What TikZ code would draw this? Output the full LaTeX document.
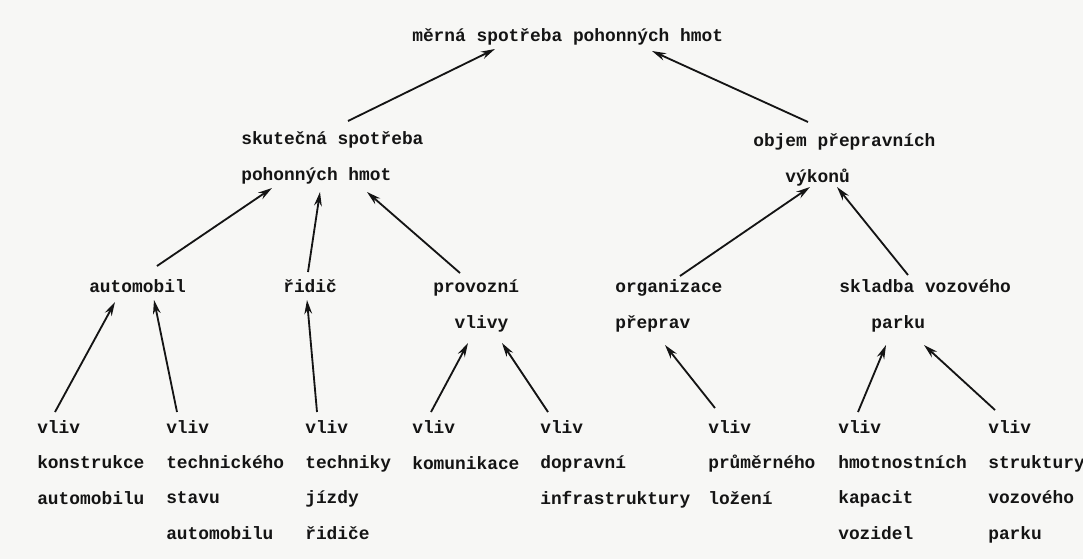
\documentclass[tikz,border=0pt]{standalone}
\usepackage{fontspec}
\setmonofont{Liberation Mono}
\usetikzlibrary{arrows.meta}
\definecolor{ink}{HTML}{141414}
\definecolor{paper}{HTML}{F7F7F5}
\begin{document}
\begin{tikzpicture}[x=0.025cm,y=-0.025cm,
  lbl/.style={anchor=base west,inner sep=0pt,align=left,text=ink,
    font=\ttfamily\bfseries\fontsize{12.7}{24.9}\selectfont},
  arr/.style={draw=ink,line width=1.3pt,-{Stealth[length=10pt,width=5.5pt]}}]
\fill[paper] (0,0) rectangle (1083,559);
\useasboundingbox (0,0) rectangle (1083,559);

\node[lbl] (top) at (412,42) {měrná spotřeba pohonných hmot};
\node[lbl] (skut) at (241,180) {skutečná spotřeba\\pohonných hmot};
\node[lbl] (obj) at (753,182) {objem přepravních\\\hspace*{1.8em}výkonů};
\node[lbl] (auto) at (89,292) {automobil};
\node[lbl] (rid) at (283,292) {řidič};
\node[lbl] (prov) at (433,328) {provozní\\\hspace*{1.2em}vlivy};
\node[lbl] (org) at (615,328) {organizace\\přeprav};
\node[lbl] (skl) at (839,328) {skladba vozového\\\hspace*{1.8em}parku};

\node[lbl] (v1) at (37,504) {vliv\\konstrukce\\automobilu};
\node[lbl] (v2) at (166,539) {vliv\\technického\\stavu\\automobilu};
\node[lbl] (v3) at (305,539) {vliv\\techniky\\jízdy\\řidiče};
\node[lbl] (v4) at (412,469) {vliv\\komunikace};
\node[lbl] (v5) at (540,504) {vliv\\dopravní\\infrastruktury};
\node[lbl] (v6) at (708,504) {vliv\\průměrného\\ložení};
\node[lbl] (v7) at (838,539) {vliv\\hmotnostních\\kapacit\\vozidel};
\node[lbl] (v8) at (988,539) {vliv\\struktury\\vozového\\parku};

\draw[arr] ([shift={(107,-59)}]skut.base west) -- ([shift={(83,7)}]top.base west);
\draw[arr] ([shift={(55,-60)}]obj.base west) -- ([shift={(240,9)}]top.base west);
\draw[arr] ([shift={(68,-26)}]auto.base west) -- ([shift={(31,8)}]skut.base west);
\draw[arr] ([shift={(25,-20)}]rid.base west) -- ([shift={(79,12)}]skut.base west);
\draw[arr] ([shift={(27,-55)}]prov.base west) -- ([shift={(126,12)}]skut.base west);
\draw[arr] ([shift={(65,-52)}]org.base west) -- ([shift={(57,5)}]obj.base west);
\draw[arr] ([shift={(69,-53)}]skl.base west) -- ([shift={(84,5)}]obj.base west);
\draw[arr] ([shift={(18,-92)}]v1.base west) -- ([shift={(26,10)}]auto.base west);
\draw[arr] ([shift={(11,-127)}]v2.base west) -- ([shift={(65,8)}]auto.base west);
\draw[arr] ([shift={(12,-127)}]v3.base west) -- ([shift={(24,8)}]rid.base west);
\draw[arr] ([shift={(19,-57)}]v4.base west) -- ([shift={(35,15)}]prov.base west);
\draw[arr] ([shift={(8,-92)}]v5.base west) -- ([shift={(69,15)}]prov.base west);
\draw[arr] ([shift={(7,-96)}]v6.base west) -- ([shift={(50,17)}]org.base west);
\draw[arr] ([shift={(20,-127)}]v7.base west) -- ([shift={(47,17)}]skl.base west);
\draw[arr] ([shift={(7,-129)}]v8.base west) -- ([shift={(85,17)}]skl.base west);
\end{tikzpicture}
\end{document}
